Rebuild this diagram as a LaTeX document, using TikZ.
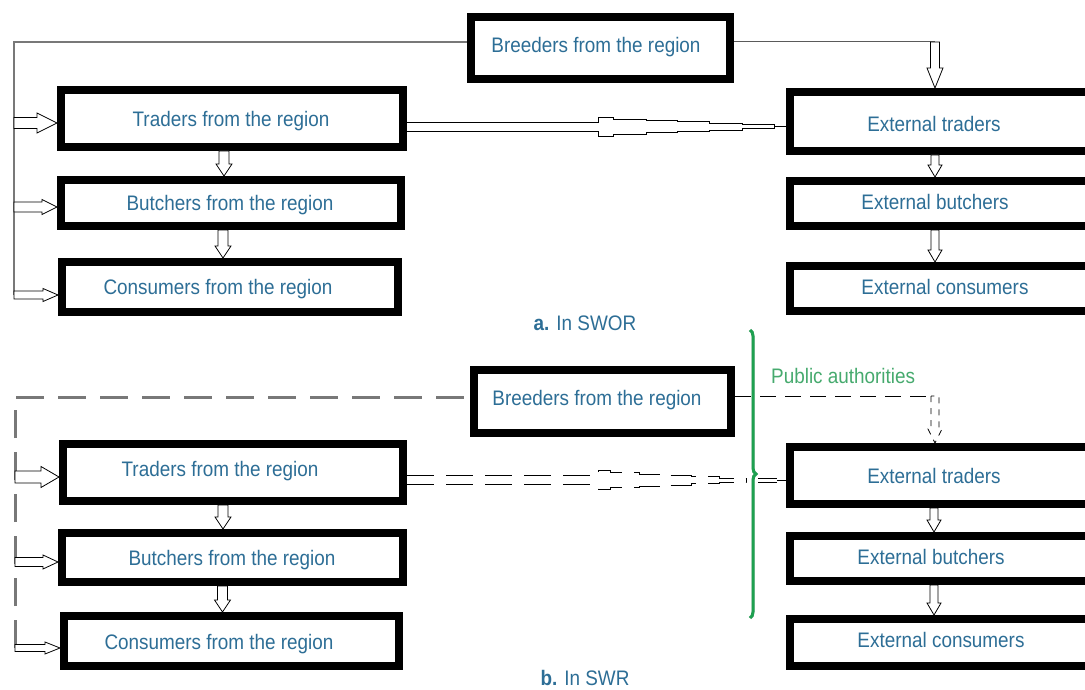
\documentclass[tikz,border=0pt]{standalone}
\usepackage{fontspec}
\setmainfont{Liberation Sans}[FakeStretch=0.9]
\usetikzlibrary{calc,decorations.pathreplacing}
\definecolor{txtblue}{RGB}{45,110,150}
\definecolor{pagreen}{RGB}{30,160,80}
\definecolor{patext}{RGB}{70,170,110}
\definecolor{lgrey}{RGB}{120,120,120}
\definecolor{dgrey}{RGB}{90,90,90}
\newcommand\mybox[8]{%
  \pgfmathsetmacro\bw{#4-#2-8}\pgfmathsetmacro\bh{#5-#3-8}%
  \node[bx, minimum width=\bw pt, minimum height=\bh pt] (#1) at ({(#2+#4)/2},{(#3+#5)/2}) {};
  \node[lbl] (#1t) at (#6,#7) {#8};}
\begin{document}
\begin{tikzpicture}[x=1pt,y=-1pt,
  bx/.style={draw=black, line width=8pt, inner sep=0pt, fill=white},
  lbl/.style={text=txtblue, font=\fontsize{21}{24}\selectfont, inner sep=0pt},
  pa/.style={text=patext, font=\fontsize{21}{24}\selectfont, inner sep=0pt},
  hollowR/.style n args={3}{draw=black, line width=0.8pt, fill=white,
    to path={let \p1=(\tikztostart), \p2=(\tikztotarget) in
      (\x1,{\y1+#1}) -- ({\x2-#3},{\y1+#1}) -- ({\x2-#3},{\y1+#2}) -- (\x2,\y1)
      -- ({\x2-#3},{\y1-#2}) -- ({\x2-#3},{\y1-#1}) -- (\x1,{\y1-#1}) -- cycle}},
  hollowD/.style n args={3}{draw=black, line width=0.8pt, fill=white,
    to path={let \p1=(\tikztostart), \p2=(\tikztotarget) in
      ({\x1-#1},\y1) -- ({\x1-#1},{\y2+#3}) -- ({\x1-#2},{\y2+#3}) -- (\x1,\y2)
      -- ({\x1+#2},{\y2+#3}) -- ({\x1+#1},{\y2+#3}) -- ({\x1+#1},\y1) -- cycle}},
  wedge/.style={draw=black, line width=0.8pt,
    to path={let \p1=(\tikztostart), \p2=(\tikztotarget), \n1={\x1+191}, \n2={\x2-#1-\x1-191} in
      (\x1,{\y1+4.5}) -- ({\n1*1pt},{\y1+4.5}) -- ({\n1*1pt},{\y1+9.5})
      -- ({(\n1+0.085*\n2)*1pt},{\y1+9.5}) -- ({(\n1+0.085*\n2)*1pt},{\y1+7.5})
      -- ({(\n1+0.277*\n2)*1pt},{\y1+7.5}) -- ({(\n1+0.277*\n2)*1pt},{\y1+6})
      -- ({(\n1+0.452*\n2)*1pt},{\y1+6}) -- ({(\n1+0.452*\n2)*1pt},{\y1+5})
      -- ({(\n1+0.633*\n2)*1pt},{\y1+5}) -- ({(\n1+0.633*\n2)*1pt},{\y1+3.5})
      -- ({(\n1+0.819*\n2)*1pt},{\y1+3.5}) -- ({(\n1+0.819*\n2)*1pt},{\y1+2})
      -- ({(\n1+\n2)*1pt},{\y1+2}) -- ({(\n1+\n2)*1pt},\y1) -- (\x2,\y1)
      (\x1,{\y1-4.5}) -- ({\n1*1pt},{\y1-4.5}) -- ({\n1*1pt},{\y1-9.5})
      -- ({(\n1+0.085*\n2)*1pt},{\y1-9.5}) -- ({(\n1+0.085*\n2)*1pt},{\y1-7.5})
      -- ({(\n1+0.277*\n2)*1pt},{\y1-7.5}) -- ({(\n1+0.277*\n2)*1pt},{\y1-6})
      -- ({(\n1+0.452*\n2)*1pt},{\y1-6}) -- ({(\n1+0.452*\n2)*1pt},{\y1-5})
      -- ({(\n1+0.633*\n2)*1pt},{\y1-5}) -- ({(\n1+0.633*\n2)*1pt},{\y1-3.5})
      -- ({(\n1+0.819*\n2)*1pt},{\y1-3.5}) -- ({(\n1+0.819*\n2)*1pt},{\y1-2})
      -- ({(\n1+\n2)*1pt},{\y1-2}) -- ({(\n1+\n2)*1pt},\y1)}},
  greyline/.style={draw=lgrey, line width=2pt},
  greydash/.style={draw=lgrey, line width=3pt, dash pattern=on 28pt off 14pt},
]
\useasboundingbox (0,0) rectangle (1085,690);
\clip (0,0) rectangle (1085,690);
\fill[white] (0,0) rectangle (1085,690);

% ---------- a. In SWOR ----------
\mybox{bra}{467}{13}{734}{83}{596}{47}{Breeders from the region}
\mybox{tra}{57}{86}{407}{151}{231}{121}{Traders from the region}
\mybox{bua}{57}{176}{405}{230}{230}{205}{Butchers from the region}
\mybox{coa}{58}{258}{402}{316}{218}{289}{Consumers from the region}
\mybox{eta}{786}{88}{1100}{155}{934}{124}{External traders}
\mybox{eba}{786}{177}{1100}{230}{935}{202}{External butchers}
\mybox{eca}{786}{262}{1100}{315}{945}{287}{External consumers}
\node[lbl] (capa) at (585,323) {\textbf{a.} In SWOR};

\coordinate (a0) at (14,42);
\coordinate (a1) at (14,123);
\coordinate (a2) at (14,207);
\coordinate (a3) at (14,295);
\draw[greyline] (a3) -- (a0) -- (a0 -| bra.west);
\draw[hollowR={5.5}{10}{20}] (a1) to (a1 -| tra.west);
\draw[hollowR={5}{7.5}{15}] (a2) to (a2 -| bua.west);
\draw[hollowR={4}{6.5}{15}] (a3) to (a3 -| coa.west);

\draw[hollowD={5}{8}{12}] ([xshift=-8pt]tra.south) to ([xshift=-8pt]tra.south |- bua.north);
\draw[hollowD={5}{8}{12}] ([xshift=-8pt]bua.south) to ([xshift=-8pt]bua.south |- coa.north);
\draw[hollowD={4}{7}{12}] ([xshift=-8pt]eta.south) to ([xshift=-8pt]eta.south |- eba.north);
\draw[hollowD={4}{7}{12}] ([xshift=-8pt]eba.south) to ([xshift=-8pt]eba.south |- eca.north);

\coordinate (ba1) at (935,42);
\draw[draw=dgrey, line width=1pt] (bra.east |- ba1) -- (ba1);
\draw[hollowD={4.5}{8}{20}] (ba1) to (ba1 |- eta.north);

\coordinate (wa) at (407,126.5);
\draw[wedge=12] (wa) to (wa -| eta.west);

% ---------- b. In SWR ----------
\mybox{brb}{470}{366}{735}{437}{597}{400}{Breeders from the region}
\mybox{trb}{59}{440}{407}{505}{220}{471}{Traders from the region}
\mybox{bub}{58}{529}{407}{586}{232}{560}{Butchers from the region}
\mybox{cob}{60}{612}{403}{670}{219}{644}{Consumers from the region}
\mybox{etb}{786}{443}{1100}{508}{934}{476}{External traders}
\mybox{ebb}{786}{532}{1100}{585}{931}{557}{External butchers}
\mybox{ecb}{786}{615}{1100}{670}{941}{640}{External consumers}
\node[lbl] (capb) at (585,678) {\textbf{b.} In SWR};
\node[pa, anchor=west] (pub) at (771,376) {Public authorities};

\coordinate (b0) at (15,397);
\coordinate (b1) at (15,477);
\coordinate (b2) at (15,562);
\coordinate (b3) at (15,648);
\draw[greydash] (b3) -- (b0) -- (b0 -| brb.west);
\draw[hollowR={6}{10.5}{18}] (b1) to (b1 -| trb.west);
\draw[hollowR={4.5}{7}{15}] (b2) to (b2 -| bub.west);
\draw[hollowR={3.5}{6}{15}] (b3) to (b3 -| cob.west);

\draw[hollowD={5}{8}{12}] ([xshift=-10pt]trb.south) to ([xshift=-10pt]trb.south |- bub.north);
\draw[hollowD={5}{8}{12}] ([xshift=-10pt]bub.south) to ([xshift=-10pt]bub.south |- cob.north);
\draw[hollowD={4}{7}{12}] ([xshift=-9pt]etb.south) to ([xshift=-9pt]etb.south |- ebb.north);
\draw[hollowD={4}{7}{12}] ([xshift=-9pt]ebb.south) to ([xshift=-9pt]ebb.south |- ecb.north);

\coordinate (bb1) at (935,396);
\draw[draw=black, line width=1pt, dash pattern=on 16pt off 9pt] (brb.east |- bb1) -- (bb1);
\draw[hollowD={4}{7}{14}, dash pattern=on 6pt off 6pt] (bb1) to (bb1 |- etb.north);

\coordinate (wb) at (407,480);
\coordinate (brc) at (746,480);
\draw[wedge=0, dash pattern=on 27pt off 12pt] (wb) to (brc);
\coordinate (eq1) at (758,480);
\coordinate (eq2) at (777,480);
\draw[line width=0.8pt] ([yshift=2pt]eq1) -- ([yshift=2pt]eq2) ([yshift=-2pt]eq1) -- ([yshift=-2pt]eq2)
  (eq2) -- (eq2 -| etb.west);

\coordinate (brT) at (750,330);
\coordinate (brB) at (750,618);
\draw[decorate, decoration={brace, amplitude=6pt}, draw=black!20, line width=3pt, xshift=3pt] (brT) -- (brB);
\draw[decorate, decoration={brace, amplitude=6pt}, draw=pagreen, line width=3pt] (brT) -- (brB);
\end{tikzpicture}
\end{document}
